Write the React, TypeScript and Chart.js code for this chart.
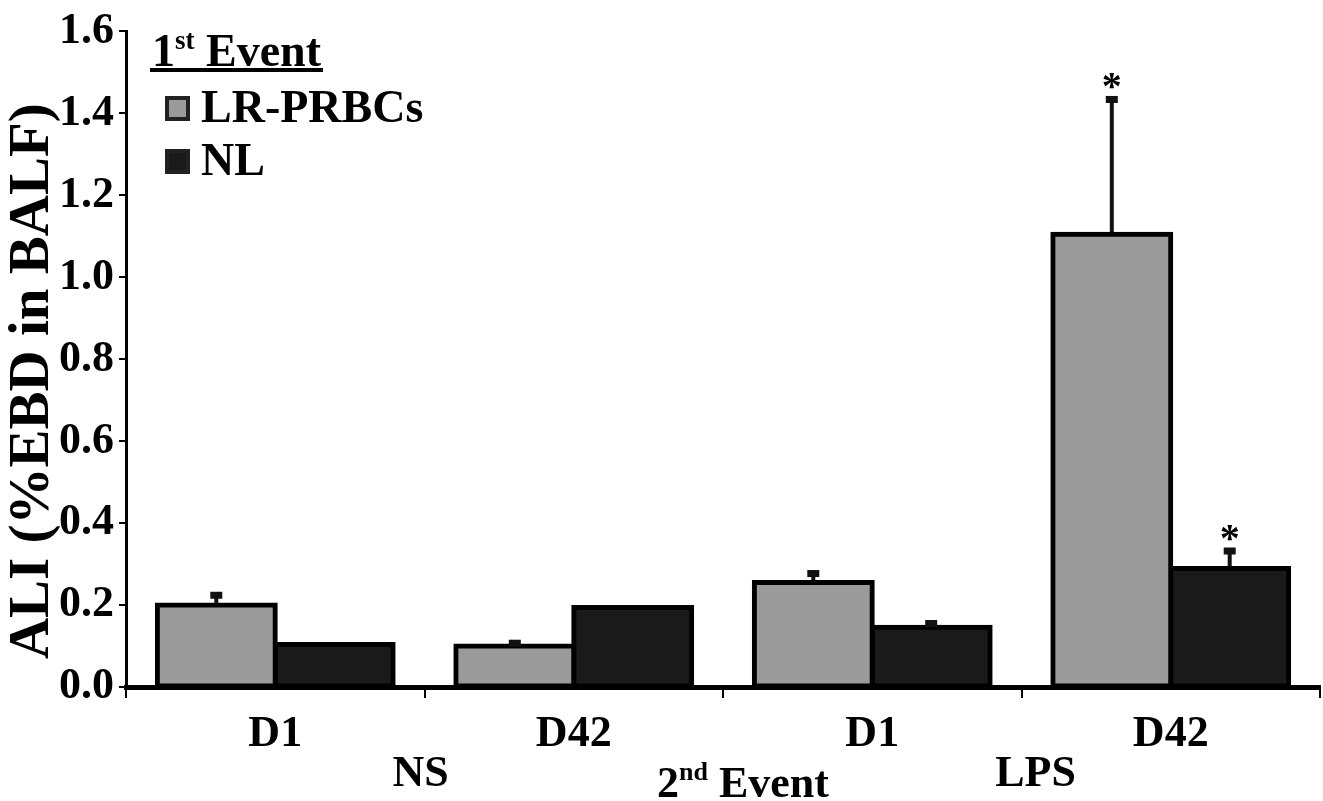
import React, { useEffect, useRef } from "react";
import { Chart, registerables } from "chart.js";

Chart.register(...registerables);

const categories = ["D1", "D42", "D1", "D42"];
const secondEventGroups = ["NS", "LPS"];
const seriesNames = ["LR-PRBCs", "NL"];
const lrValues = [0.2, 0.1, 0.255, 1.105];
const lrErrors = [0.03, 0.013, 0.028, 0.335];
const lrSignificant = [false, false, false, true];
const nlValues = [0.104, 0.194, 0.146, 0.289];
const nlErrors = [0, 0, 0.015, 0.049];
const nlSignificant = [false, false, false, true];
const yTickValues = [0, 0.2, 0.4, 0.6, 0.8, 1.0, 1.2, 1.4, 1.6];
const yTitle = "ALI (%EBD in BALF)";

const GRAY = "#9a9a9a";
const BLACK = "#1a1a1a";
const FONT = "'Liberation Serif', 'Times New Roman', serif";

const errorsBySeries = [lrErrors, nlErrors];
const sigBySeries = [lrSignificant, nlSignificant];

const errorBarPlugin = {
  id: "errorBars",
  afterDatasetsDraw(chart: any) {
    const ctx = chart.ctx;
    const y = chart.scales.y;
    chart.data.datasets.forEach((ds: any, di: number) => {
      const meta = chart.getDatasetMeta(di);
      const errs = errorsBySeries[di];
      const sig = sigBySeries[di];
      meta.data.forEach((bar: any, i: number) => {
        const v = ds.data[i];
        const e = errs[i];
        const x = bar.x;
        const yTop = y.getPixelForValue(v);
        const yE = y.getPixelForValue(v + e);
        ctx.save();
        if (e > 0) {
          ctx.strokeStyle = "#111";
          ctx.lineWidth = 4;
          ctx.beginPath();
          ctx.moveTo(x, yTop - 2);
          ctx.lineTo(x, yE + 2);
          ctx.stroke();
          ctx.fillStyle = "#111";
          ctx.fillRect(x - 6, yE - 1, 12, 7);
        }
        if (sig[i]) {
          ctx.fillStyle = "#000";
          ctx.font = `bold 40px ${FONT}`;
          ctx.textAlign = "center";
          ctx.textBaseline = "middle";
          ctx.fillText("*", x, yE - 8);
        }
        ctx.restore();
      });
    });
  },
};

function drawSup(ctx: any, base: string, sup: string, rest: string, x: number, y: number, size: number, align: "left" | "center") {
  ctx.font = `bold ${size}px ${FONT}`;
  const wBase = ctx.measureText(base).width;
  const wRest = ctx.measureText(rest).width;
  ctx.font = `bold ${Math.round(size * 0.58)}px ${FONT}`;
  const wSup = ctx.measureText(sup).width;
  const total = wBase + wSup + wRest;
  const sx = align === "center" ? x - total / 2 : x;
  ctx.textAlign = "left";
  ctx.textBaseline = "alphabetic";
  ctx.font = `bold ${size}px ${FONT}`;
  ctx.fillText(base, sx, y);
  ctx.font = `bold ${Math.round(size * 0.58)}px ${FONT}`;
  ctx.fillText(sup, sx + wBase, y - size * 0.38);
  ctx.font = `bold ${size}px ${FONT}`;
  ctx.fillText(rest, sx + wBase + wSup, y);
  return { left: sx, right: sx + total };
}

const annotationPlugin = {
  id: "annotations",
  afterDraw(chart: any) {
    const ctx = chart.ctx;
    const area = chart.chartArea;
    const x = chart.scales.x;
    ctx.save();
    ctx.fillStyle = "#000";

    // Y axis title
    ctx.save();
    ctx.translate(31, (area.top + area.bottom) / 2 + 22);
    ctx.rotate(-Math.PI / 2);
    ctx.font = `bold 57px ${FONT}`;
    ctx.textAlign = "center";
    ctx.textBaseline = "middle";
    ctx.fillText(yTitle, 0, 2);
    ctx.restore();

    // Legend
    const lx = area.left + 26;
    const r = drawSup(ctx, "1", "st", " Event", lx, 66, 46, "left");
    ctx.fillRect(r.left - 2, 68, r.right - r.left + 4, 4);
    chart.data.datasets.forEach((ds: any, i: number) => {
      const cy = 108 + i * 53;
      const bx = area.left + 39;
      ctx.fillStyle = "#222";
      ctx.fillRect(bx, cy - 12, 25, 25);
      ctx.fillStyle = ds.backgroundColor;
      ctx.fillRect(bx + 4, cy - 8, 17, 17);
      ctx.fillStyle = "#000";
      ctx.font = `bold 46px ${FONT}`;
      ctx.textAlign = "left";
      ctx.textBaseline = "middle";
      ctx.fillText(ds.label, bx + 36, cy + 2);
    });

    // Second event group labels
    ctx.font = `bold 44px ${FONT}`;
    ctx.textAlign = "center";
    ctx.textBaseline = "middle";
    secondEventGroups.forEach((g, gi) => {
      const px = x.getPixelForValue(gi * 2 + 0.5);
      ctx.fillText(g, px + gi * 18 - 4, 775);
    });
    drawSup(ctx, "2", "nd", " Event", (area.left + area.right) / 2 + 20, 797, 44, "center");
    ctx.restore();
  },
};

export default function App() {
  const ref = useRef<HTMLCanvasElement | null>(null);
  useEffect(() => {
    document.body.style.margin = "0";
    const canvas = ref.current;
    if (!canvas) return;
    const barStyle = {
      borderColor: "#000",
      borderWidth: 5,
      borderSkipped: false,
      inflateAmount: 2.5,
      categoryPercentage: 0.79,
      barPercentage: 1.0,
    };
    const chart = new Chart(canvas, {
      type: "bar",
      data: {
        labels: categories,
        datasets: [
          { label: seriesNames[0], data: lrValues, backgroundColor: GRAY, ...barStyle },
          { label: seriesNames[1], data: nlValues, backgroundColor: BLACK, ...barStyle },
        ],
      },
      options: {
        responsive: false,
        animation: false,
        layout: { padding: { top: 28, right: 3, left: 0, bottom: 0 } },
        plugins: { legend: { display: false }, tooltip: { enabled: false } },
        scales: {
          x: {
            offset: true,
            grid: {
              offset: true,
              drawOnChartArea: false,
              drawTicks: true,
              tickLength: 11,
              color: "#000",
              lineWidth: 2,
            },
            border: { display: true, color: "#000", width: 5 },
            ticks: {
              color: "#000",
              font: { family: FONT, size: 44, weight: "bold" },
              padding: 10,
            },
            afterFit(scale: any) {
              scale.height = 801 - 687;
            },
          },
          y: {
            min: 0,
            max: 1.6,
            afterBuildTicks(scale: any) {
              scale.ticks = yTickValues.map((v) => ({ value: v }));
            },
            grid: {
              drawOnChartArea: false,
              drawTicks: true,
              tickLength: 7,
              color: "#000",
              lineWidth: 2,
            },
            border: { display: true, color: "#000", width: 3 },
            ticks: {
              color: "#000",
              font: { family: FONT, size: 44, weight: "bold" },
              padding: 5,
              callback: (v: any) => Number(v).toFixed(1),
            },
            title: { display: false },
            afterFit(scale: any) {
              scale.width = 126;
            },
          },
        },
      },
      plugins: [errorBarPlugin, annotationPlugin],
    });
    return () => chart.destroy();
  }, []);
  return (
    <div style={{ width: 1323, height: 801, background: "#fff" }}>
      <canvas ref={ref} width={1323} height={801} />
    </div>
  );
}
